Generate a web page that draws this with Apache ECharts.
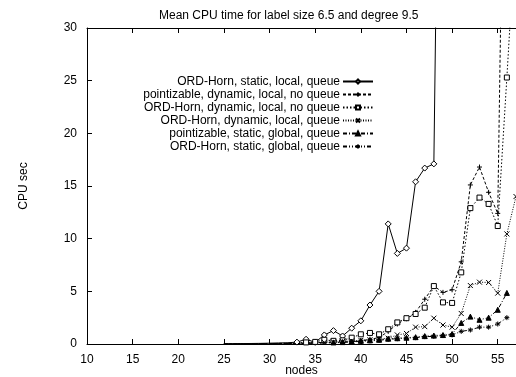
<!DOCTYPE html>
<html>
<head>
<meta charset="utf-8">
<script src="https://cdn.jsdelivr.net/npm/echarts@6/dist/echarts.min.js"></script>
<style>html,body{margin:0;padding:0;background:#fff;}#c{width:516px;height:377px;}</style>
</head>
<body>
<div id="c"></div>
<script>
const titleText = 'Mean CPU time for label size 6.5 and degree 9.5';
const nodes = [25,26,27,28,29,30,31,32,33,34,35,36,37,38,39,40,41,42,43,44,45,46,47,48,49,50,51,52,53,54,55,56,57];
const seriesNames = [
  'ORD-Horn, static, local, queue',
  'pointizable, dynamic, local, no queue',
  'ORD-Horn, dynamic, local, no queue',
  'ORD-Horn, dynamic, local, queue',
  'pointizable, static, global, queue',
  'ORD-Horn, static, global, queue'
];
const ordStaticLocalQueue = [0.02,0.03,0.04,0.05,0.06,0.08,0.1,0.12,0.18,0.45,0.16,0.86,1.27,0.76,1.5,2.2,3.7,5.0,11.4,8.6,9.1,15.4,16.7,17.1,85,null,null,null,null,null,null,null,null];
const pointDynLocalNoQueue = [0.01,0.01,0.02,0.02,0.03,0.04,0.05,0.06,0.08,0.1,0.12,0.15,0.17,0.2,0.22,0.3,0.45,0.6,1.2,1.9,2.4,3.0,4.25,5.5,4.9,5.15,7.8,15.1,16.8,14.4,12.4,70,null];
const ordDynLocalNoQueue = [0.01,0.01,0.02,0.02,0.03,0.04,0.05,0.07,0.1,0.15,0.2,0.4,0.3,0.35,0.6,0.92,1.05,0.92,1.4,2.05,2.45,2.85,3.45,5.5,3.95,3.9,6.8,12.9,13.9,13.3,11.2,25.3,40];
const ordDynLocalQueue = [0.01,0.01,0.01,0.02,0.02,0.03,0.04,0.05,0.07,0.09,0.12,0.15,0.2,0.25,0.3,0.35,0.4,0.45,0.55,0.86,1.0,1.6,1.65,2.45,1.8,1.6,2.9,5.55,5.87,5.84,4.83,10.45,14];
const pointStaticGlobalQueue = [0.01,0.01,0.01,0.01,0.02,0.02,0.03,0.04,0.05,0.07,0.09,0.12,0.15,0.18,0.22,0.3,0.35,0.4,0.5,0.55,0.6,0.65,0.75,0.8,0.85,0.95,2.0,2.6,2.3,2.5,3.25,4.85,null];
const ordStaticGlobalQueue = [0.01,0.01,0.01,0.01,0.01,0.02,0.02,0.03,0.04,0.05,0.07,0.09,0.12,0.15,0.2,0.25,0.3,0.35,0.45,0.5,0.55,0.6,0.7,0.72,0.8,0.86,1.2,1.33,1.6,1.6,1.9,2.5,null];
const xTicks = {min: 10, max: 57, interval: 5};
const yTicks = {min: 0, max: 30, interval: 5};

const FONT = '"Liberation Sans", Arial, sans-serif';
const allValues = [ordStaticLocalQueue, pointDynLocalNoQueue, ordDynLocalNoQueue, ordDynLocalQueue, pointStaticGlobalQueue, ordStaticGlobalQueue];
const symbols = [
  {symbol: 'diamond', size: 6, fill: '#fff'},
  {symbol: 'path://M5,0L5,10M0,5L10,5', size: 5, fill: 'none'},
  {symbol: 'rect', size: 5, fill: '#fff'},
  {symbol: 'path://M0,0L10,10M10,0L0,10', size: 5, fill: 'none'},
  {symbol: 'triangle', size: 5, fill: '#000'},
  {symbol: 'path://M5,0L5,10M0,5L10,5M1.5,1.5L8.5,8.5M8.5,1.5L1.5,8.5', size: 5, fill: 'none'}
];
const dashes = ['solid', [3,2], [1.5,2], [1,1.5], [4,2,1,2], [4,2,1,2,1,2]];

function pairs(vals) {
  const out = [];
  vals.forEach((v, i) => { if (v !== null) out.push([nodes[i], v]); });
  return out;
}

const series = allValues.map((vals, k) => ({
  name: seriesNames[k],
  type: 'line',
  data: pairs(vals),
  symbol: symbols[k].symbol,
  symbolSize: (v) => (v[1] >= 0.15 ? symbols[k].size : 0),
  showAllSymbol: true,
  clip: true,
  animation: false,
  lineStyle: {color: '#000', width: 1, type: dashes[k]},
  itemStyle: {color: symbols[k].fill, borderColor: '#000', borderWidth: 1},
  emphasis: {disabled: true}
}));

const chart = echarts.init(document.getElementById('c'), null, {renderer: 'canvas'});
chart.setOption({
  animation: false,
  backgroundColor: '#fff',
  title: {
    text: titleText, left: 159, top: 10, padding: 0,
    textStyle: {fontFamily: FONT, fontSize: 12, fontWeight: 'normal', color: '#000'}
  },
  legend: {
    orient: 'vertical', align: 'right', right: 142, top: 75, padding: 0,
    itemWidth: 30, itemHeight: 5, itemGap: 0,
    selectedMode: false,
    textStyle: {fontFamily: FONT, fontSize: 12, lineHeight: 13, color: '#000', padding: [0, -2, 0, 0]},
    data: seriesNames
  },
  grid: {left: 87, right: 0, top: 28, bottom: 33, containLabel: false, outerBoundsMode: 'none'},
  xAxis: [{
    type: 'value', min: xTicks.min, max: xTicks.max, interval: xTicks.interval,
    name: 'nodes', nameLocation: 'middle', nameGap: 21, nameMoveOverlap: false,
    nameTextStyle: {fontFamily: FONT, fontSize: 12, color: '#000'},
    axisLine: {onZero: false, lineStyle: {color: '#000', width: 1}},
    axisTick: {inside: true, length: 5, lineStyle: {color: '#000'}},
    axisLabel: {fontFamily: FONT, fontSize: 12, color: '#000', margin: 10, showMaxLabel: false},
    splitLine: {show: false}
  }, {
    type: 'value', position: 'top', min: xTicks.min, max: xTicks.max, interval: xTicks.interval,
    axisLine: {onZero: false, lineStyle: {color: '#000', width: 1}},
    axisTick: {inside: true, length: 5, lineStyle: {color: '#000'}},
    axisLabel: {show: false},
    splitLine: {show: false}
  }],
  yAxis: [{
    type: 'value', min: yTicks.min, max: yTicks.max, interval: yTicks.interval,
    name: 'CPU sec', nameLocation: 'middle', nameGap: 57, nameRotate: 90, nameMoveOverlap: false,
    nameTextStyle: {fontFamily: FONT, fontSize: 12, color: '#000'},
    axisLine: {show: true, onZero: false, lineStyle: {color: '#000', width: 1}},
    axisTick: {show: true, inside: true, length: 5, lineStyle: {color: '#000'}},
    axisLabel: {fontFamily: FONT, fontSize: 12, color: '#000', margin: 10},
    splitLine: {show: false}
  }],
  series: series
});
</script>
</body>
</html>
